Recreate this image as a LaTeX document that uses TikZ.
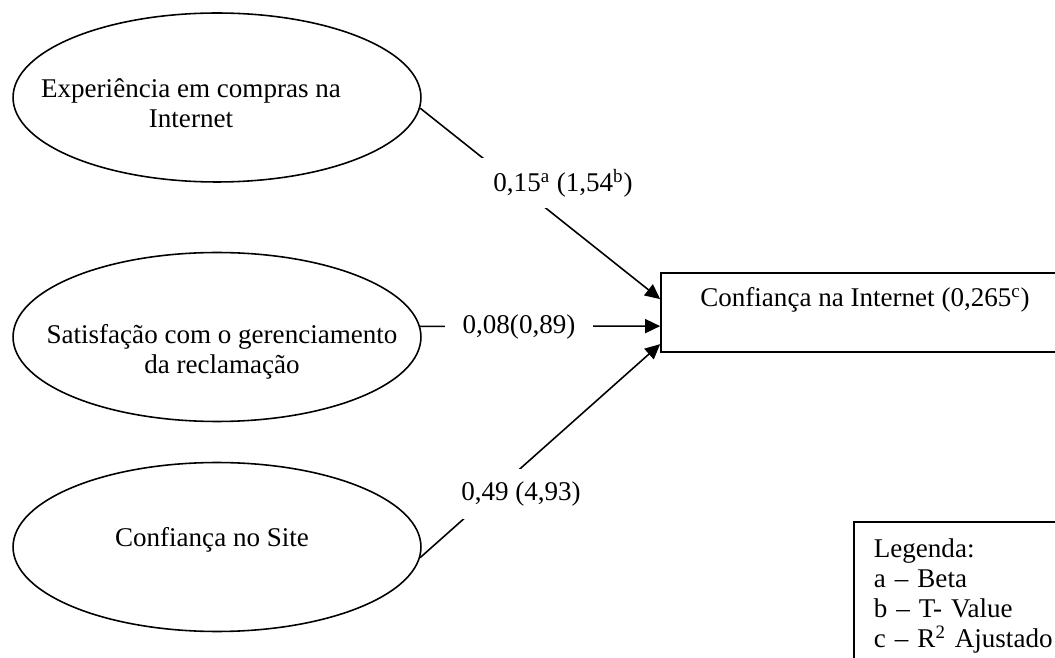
\documentclass[tikz,border=0pt]{standalone}
\usepackage{fontspec}
\setmainfont{Liberation Serif}
\usetikzlibrary{
    shapes.geometric,
    arrows.meta
}
\newcommand{\diagfont}{\fontsize{15.4pt}{17.1pt}\selectfont}
\tikzset{
    every node/.style={font=\diagfont},
    construct/.style={draw, line width=0.9pt, ellipse, minimum width=8.16cm, minimum height=3.38cm, inner sep=0pt}, % latent variables
    outcome/.style={draw, line width=1pt, rectangle, minimum width=8.16cm, minimum height=1.58cm}, % dependent variable
    coef/.style={fill=white, inner xsep=0.36cm, inner ysep=0pt, minimum height=1cm}, % beta (t value)
    effect/.style={line width=0.9pt, -{Triangle[length=0.3cm, width=0.28cm]}},
}
\begin{document}
\begin{tikzpicture}[x=0.02cm, y=-0.02cm]
    \useasboundingbox (0,0) rectangle (1055,658);
    \clip (0,0) rectangle (1055,658);
    % constructs
    \node[construct] (exp) at (217,97.5) {};
    \node[construct] (sat) at (217,337) {};
    \node[construct] (site) at (217,547) {};
    \node[align=center] (exptxt) at (191,103) {Experiência em compras na\\Internet};
    \node[align=center] (sattxt) at (222,352) {Satisfação com o gerenciamento\\da reclamação};
    \node (sitetxt) at (212,540) {Confiança no Site};
    % dependent variable
    \node[outcome] (conf) at (865,312.5) {};
    \node (conftxt) at (865,300) {Confiança na Internet (0,265\textsuperscript{c})};
    \coordinate (in1) at ([yshift=-0.54cm]conf.north west);
    \coordinate (in2) at ([yshift=-1.08cm]conf.north west);
    \coordinate (in3) at ([yshift=-1.44cm]conf.north west);
    % paths
    \draw[effect] (exp.-3) -- (in1);
    \draw[effect] (sat.3) -- (in2);
    \draw[effect] (site.-3) -- (in3);
    \node[coef] (b1) at (563,183) {0,15\textsuperscript{a} (1,54\textsuperscript{b})};
    \node[coef] (b2) at (519,327) {0,08(0,89)};
    \node[coef] (b3) at (521,494) {0,49 (4,93)};
    % legend
    \node[draw, line width=1pt, anchor=north west, align=left, text width=4cm,
          inner xsep=0.4cm, inner ysep=0.33cm] (legend) at (853,521)
        {Legenda:\\a -- Beta\\b -- T- Value\\c -- R\textsuperscript{2} Ajustado};
\end{tikzpicture}
\end{document}
